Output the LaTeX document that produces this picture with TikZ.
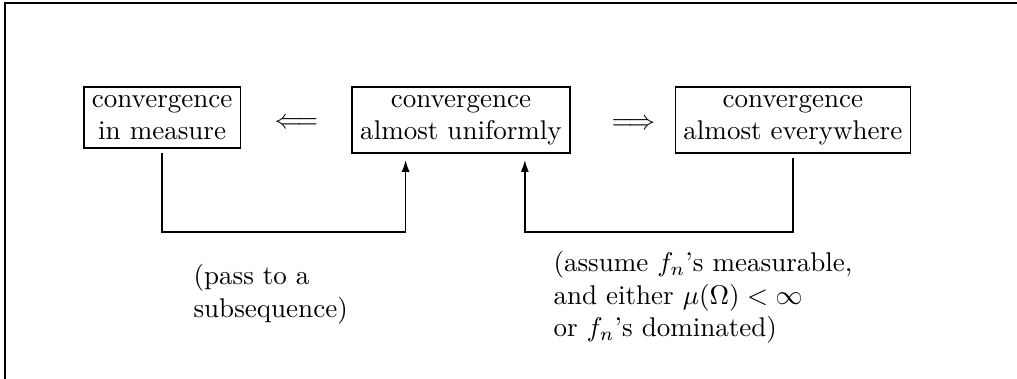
\documentclass[tikz,border=0pt]{standalone}
\usetikzlibrary{positioning,arrows.meta}
\begin{document}
\begin{tikzpicture}[
  x=0.013cm, y=-0.013cm,
  box/.style={
    draw,
    line width=0.6pt,
    align=center,
    inner sep=3pt
  },
  note/.style={align=left, inner sep=0pt},
  imp/.style={inner sep=0pt, yshift=-1.8pt},
  link/.style={line width=0.6pt, shorten <=1.5pt},
  tolink/.style={link, -{Latex[length=4.4pt,width=3pt]}, shorten >=2.2pt},
  frame/.style={line width=0.5pt}
]
\useasboundingbox (0,0) rectangle (1017,379);
\draw[frame] (5,379) -- (5,3) -- (1017,3);
\node[box, anchor=north west] (meas) at (83,86) {convergence\\in measure};
\node[box, right=1.43cm of meas.north east, anchor=north west] (unif) {convergence\\almost uniformly};
\node[box, right=1.35cm of unif.north east, anchor=north west] (ae) {convergence\\almost everywhere};
\path (meas.east) -- node[imp] (left) {$\Longleftarrow$} (unif.west);
\path (unif.east) -- node[imp, xshift=4pt] (right) {$\Longrightarrow$} (ae.west);
\coordinate (rail) at (0,232);
\draw[tolink] (meas.south) -- (meas.south |- rail) -| ([xshift=-0.72cm]unif.south);
\draw[tolink] (ae.south) -- (ae.south |- rail) -| ([xshift=0.83cm]unif.south);
\node[note, anchor=north west] (pass) at (193,264) {(pass to a\\subsequence)};
\node[note, anchor=north west] (assume) at (553,251) {(assume $f_n$'s measurable,\\and either $\mu(\Omega)<\infty$\\or $f_n$'s dominated)};
\end{tikzpicture}
\end{document}
